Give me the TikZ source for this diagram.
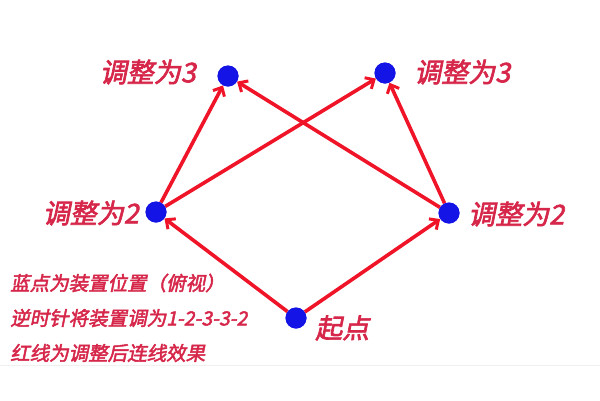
\documentclass[tikz,border=0pt]{standalone}
\usepackage{fontspec}
\newfontfamily\cjk[FakeSlant=0.2,FakeBold=2.4]{Noto Sans CJK SC}
\usetikzlibrary{arrows.meta}
\definecolor{labred}{RGB}{214,39,74}
\definecolor{linered}{RGB}{240,20,40}
\definecolor{dotblue}{RGB}{20,20,230}

\begin{document}
\begin{tikzpicture}[x=1pt,y=-1pt,
        dot/.style={circle, fill=dotblue, minimum size=21pt, inner sep=0pt},
        lab/.style={text=labred, font=\cjk\fontsize{27}{31}\selectfont, inner sep=0pt},
        note/.style={text=labred, font=\cjk\fontsize{19.5}{23}\selectfont, inner sep=0pt, anchor=west},
        con/.style={draw=linered, line width=3.6pt, -{Straight Barb[length=7pt,width=13pt,line width=3pt]}}]
                \useasboundingbox (0,0) rectangle (600,400);
                \draw[black!6, line width=1pt] (0,365) -- (600,365);
                % positions of the device
                \node[dot] (S) at (296,318) {};
                \node[dot] (La) at (156,212) {};
                \node[dot] (Ra) at (449,213) {};
                \node[dot] (Lb) at (228,76) {};
                \node[dot] (Rb) at (385,73) {};
                % connecting lines
                \draw[con] (S) -- (La);
                \draw[con] (S) -- (Ra);
                \draw[con] (La) -- (Lb);
                \draw[con] (Ra) -- (Rb);
                \draw[con] (La) -- (Rb);
                \draw[con] (Ra) -- (Lb);
                \fill[dotblue] (S) circle (10.5pt) (La) circle (10.5pt) (Ra) circle (10.5pt)
                    (Lb) circle (10.5pt) (Rb) circle (10.5pt);
                % labels
                \node[lab, anchor=east] (tLb) at (196,72) {调整为3};
                \node[lab, anchor=west] (tRb) at (414,72) {调整为3};
                \node[lab, anchor=east] (tLa) at (139,213) {调整为2};
                \node[lab, anchor=west] (tRa) at (468,214) {调整为2};
                \node[lab, anchor=west] (tS) at (315,328) {起点};
                % notes
                \node[note] (n1) at (10,283) {蓝点为装置位置（俯视）};
                \node[note] (n2) at (10,318) {逆时针将装置调为1-2-3-3-2};
                \node[note] (n3) at (10,353) {红线为调整后连线效果};
            \end{tikzpicture}
\end{document}
